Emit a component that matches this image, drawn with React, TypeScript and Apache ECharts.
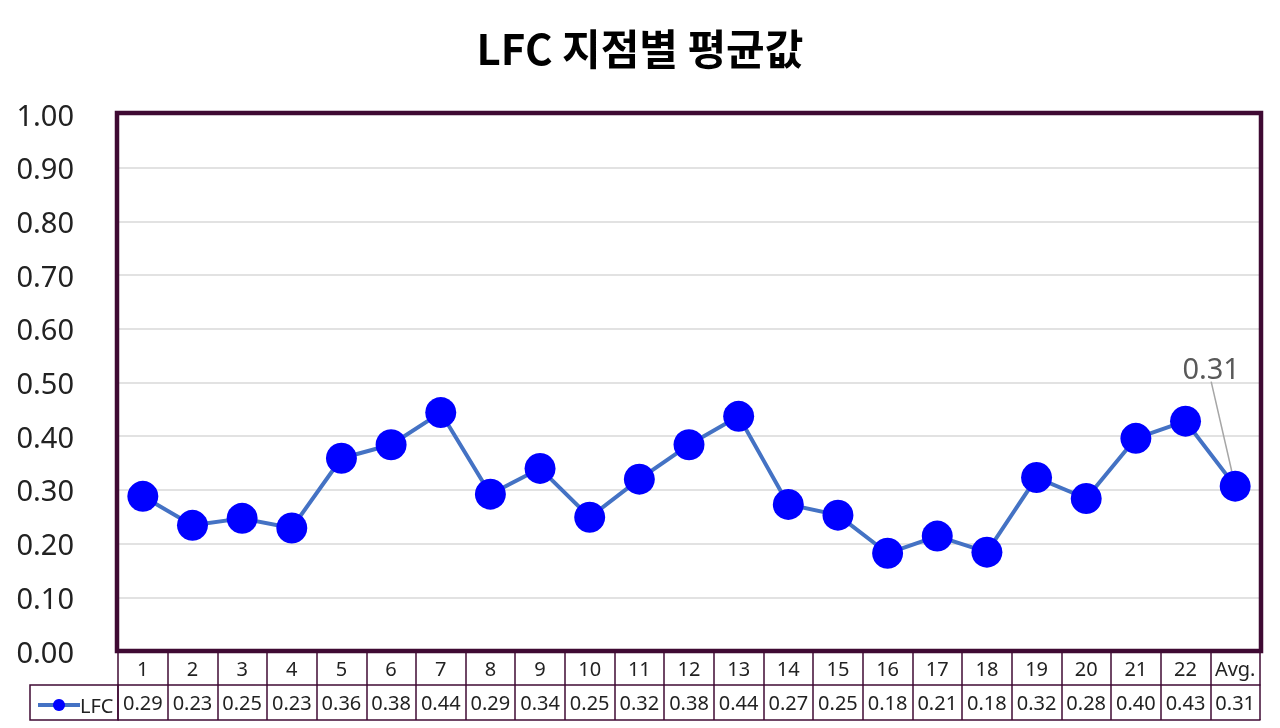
import React, { useEffect, useRef } from "react";
import * as echarts from "echarts";

const TITLE = "LFC 지점별 평균값";
const SERIES_NAME = "LFC";
const categories = ["1","2","3","4","5","6","7","8","9","10","11","12","13","14","15","16","17","18","19","20","21","22","Avg."];
const lfcValues = [0.288,0.234,0.247,0.229,0.359,0.384,0.444,0.292,0.340,0.249,0.320,0.384,0.437,0.273,0.253,0.182,0.214,0.184,0.323,0.284,0.396,0.428,0.307];
const yTicks = { min: 0, max: 1, interval: 0.1 };

const BORDER = "#3f0a33";
const FONT = "'Noto Sans', 'Noto Sans CJK KR', sans-serif";

const GRID = { left: 118, right: 20, top: 114, bottom: 77 };

export default function App() {
  const ref = useRef<HTMLDivElement>(null);
  useEffect(() => {
    document.body.style.margin = "0";
    const chart = echarts.init(ref.current!, null, { renderer: "svg" });
    const last = lfcValues.length - 1;
    const data = lfcValues.map((v, i) =>
      i === last
        ? {
            value: v,
            label: {
              show: true,
              position: "top",
              formatter: (p: any) => Number(p.value).toFixed(2),
              fontSize: 29,
              color: "#595959",
              fontFamily: FONT,
            },
          }
        : v
    );
    const option: any = {
      animation: false,
      textStyle: { fontFamily: FONT },
      title: {
        text: TITLE,
        left: "center",
        top: 20,
        textStyle: { fontSize: 42, fontWeight: "bold", color: "#000", fontFamily: "'Noto Sans CJK KR', 'Noto Sans', sans-serif" },
      },
      legend: {
        left: 31,
        top: 690,
        itemWidth: 42,
        itemHeight: 15,
        itemGap: 0,
        lineStyle: { width: 4, color: "#4472C4" },
        textStyle: { fontSize: 20, color: "#222", padding: [0, 0, 0, -5] },
        data: [SERIES_NAME],
      },
      grid: {
        ...GRID,
        show: false,
        containLabel: false,
      },
      xAxis: [
        {
          type: "category",
          data: categories,
          position: "bottom",
          boundaryGap: true,
          axisLine: { show: true, lineStyle: { color: BORDER, width: 1.5 } },
          axisTick: { show: true, interval: 0, length: 34, lineStyle: { color: BORDER, width: 1.5 } },
          axisLabel: { interval: 0, fontSize: 20, color: "#222", margin: 7 },
        },
        {
          type: "category",
          data: categories,
          position: "bottom",
          offset: 34,
          boundaryGap: true,
          axisLine: { show: true, lineStyle: { color: BORDER, width: 1.5 } },
          axisTick: { show: true, interval: 0, length: 35, lineStyle: { color: BORDER, width: 1.5 } },
          axisLabel: {
            interval: 0,
            fontSize: 20,
            color: "#222",
            margin: 7,
            formatter: (_: string, idx: number) => lfcValues[idx].toFixed(2),
          },
        },
        {
          type: "category",
          data: categories,
          position: "bottom",
          offset: 69,
          boundaryGap: true,
          axisLine: { show: true, lineStyle: { color: BORDER, width: 1.5 } },
          axisTick: { show: false },
          axisLabel: { show: false },
        },
      ],
      yAxis: {
        type: "value",
        min: yTicks.min,
        max: yTicks.max,
        interval: yTicks.interval,
        axisLine: { show: false },
        axisTick: { show: false },
        axisLabel: { fontSize: 29, color: "#222", margin: 44, formatter: (v: number) => v.toFixed(2) },
        splitLine: { show: true, lineStyle: { color: "#d9d9d9", width: 1.5 } },
      },
      graphic: [
        {
          type: "rect",
          shape: { x: 30, y: 685, width: 88, height: 35 },
          style: { fill: "none", stroke: BORDER, lineWidth: 1.5 },
          silent: true,
        },
        {
          type: "rect",
          z: 100,
          shape: { x: GRID.left - 1, y: GRID.top - 1, width: 1280 - GRID.left - GRID.right + 2, height: 728 - GRID.top - GRID.bottom + 1 },
          style: { fill: "none", stroke: BORDER, lineWidth: 4.5 },
          silent: true,
        },
      ],
      series: [
        {
          name: SERIES_NAME,
          type: "line",
          xAxisIndex: 0,
          data,
          symbol: "circle",
          symbolSize: 31,
          lineStyle: { color: "#4472C4", width: 4 },
          itemStyle: { color: "#0000FF" },
          label: { show: false },
          labelLine: { show: true, lineStyle: { color: "#a6a6a6", width: 1.5 } },
          labelLayout: (p: any) => (p.dataIndex === last ? { dx: -24, dy: -84 } : {}),
        },
      ],
    };
    chart.setOption(option);
    return () => chart.dispose();
  }, []);
  return <div ref={ref} style={{ width: 1280, height: 728, position: "fixed", left: 0, top: 0 }} />;
}
